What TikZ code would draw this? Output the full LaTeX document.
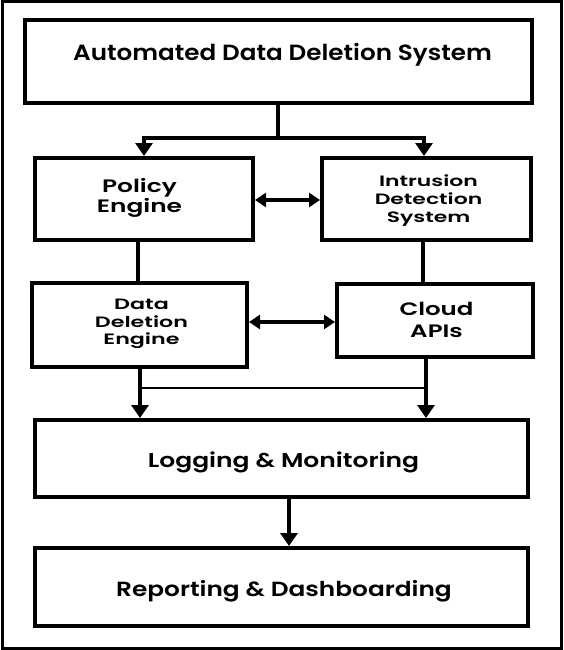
\documentclass[tikz,border=0pt]{standalone}
\usepackage{fontspec}
\setmainfont{Poppins}[UprightFont=* SemiBold]
\usetikzlibrary{arrows.meta}
\newcommand{\fs}[3]{\fontsize{#1}{#2}\selectfont\addfontfeature{FakeStretch=#3}}
\begin{document}
\begin{tikzpicture}[x=1pt,y=-1pt,
  box/.style={draw,line width=4pt,inner sep=0pt},
  conn/.style={line width=4pt},
  arr/.style={line width=4pt,-{Triangle[length=13pt,width=17pt]}},
  dbl/.style={line width=3.5pt,{Triangle[length=11pt,width=14pt]}-{Triangle[length=11pt,width=14pt]}},
  txt/.style={inner sep=0pt,align=center}]
\useasboundingbox (0,0) rectangle (563,650);
\draw[line width=3pt] (2,2) rectangle (561,648);
% boxes
\node[box,minimum width=507pt,minimum height=83pt] (top) at (278.5,61.5) {};
\node[txt,anchor=base,font=\fs{22}{24}{1.12}] (topt) at (282.5,60.7) {Automated Data Deletion System};
\node[box,minimum width=218pt,minimum height=82pt] (pol) at (144,199) {};
\node[txt,font=\fs{18}{20}{1.38}] (polt) at (139.5,197.8) {Policy\\Engine};
\node[box,minimum width=209pt,minimum height=82pt] (ids) at (426.5,199) {};
\node[txt,font=\fs{15}{18}{1.46}] (idst) at (428.5,200.5) {Intrusion\\Detection\\System};
\node[box,minimum width=215pt,minimum height=84pt] (dde) at (139.5,325) {};
\node[txt,font=\fs{15}{17.5}{1.48}] (ddet) at (141.5,324.3) {Data\\Deletion\\Engine};
\node[box,minimum width=196pt,minimum height=73pt] (cld) at (435,320.5) {};
\node[txt,font=\fs{18}{22}{1.36}] (cldt) at (436.5,320.4) {Cloud\\APIs};
\node[box,minimum width=493pt,minimum height=77pt] (log) at (281.5,458.5) {};
\node[txt,anchor=base,font=\fs{20}{22}{1.25}] (logt) at (283.5,467) {Logging \& Monitoring};
\node[box,minimum width=493pt,minimum height=78pt] (rep) at (281.5,587) {};
\node[txt,anchor=base,font=\fs{20.5}{22}{1.21}] (rept) at (284,596) {Reporting \& Dashboarding};
% connectors
\coordinate (j) at (278,138);
\coordinate (jl) at (144,138);
\coordinate (jr) at (424,138);
\draw[conn] (top.south -| j) -- (j);
\draw[line width=4pt] ([xshift=-2pt]jl) -- ([xshift=2pt]jr);
\draw[arr] (jl) -- (pol.north -| jl);
\draw[arr] (jr) -- (ids.north -| jr);
\draw[dbl] (pol.east |- 0,200) -- (ids.west |- 0,200);
\draw[conn] (pol.south -| 138,0) -- (dde.north -| 138,0);
\draw[conn] (ids.south -| 423,0) -- (cld.north -| 423,0);
\draw[dbl] (dde.east |- 0,322) -- (cld.west |- 0,322);
\coordinate (bl) at (140,388);
\coordinate (br) at (426,388);
\draw[line width=2.5pt] (bl) -- (br);
\draw[arr] (dde.south -| bl) -- (log.north -| bl);
\draw[arr] (cld.south -| br) -- (log.north -| br);
\draw[arr] (log.south -| 289,0) -- (rep.north -| 289,0);
\end{tikzpicture}
\end{document}
